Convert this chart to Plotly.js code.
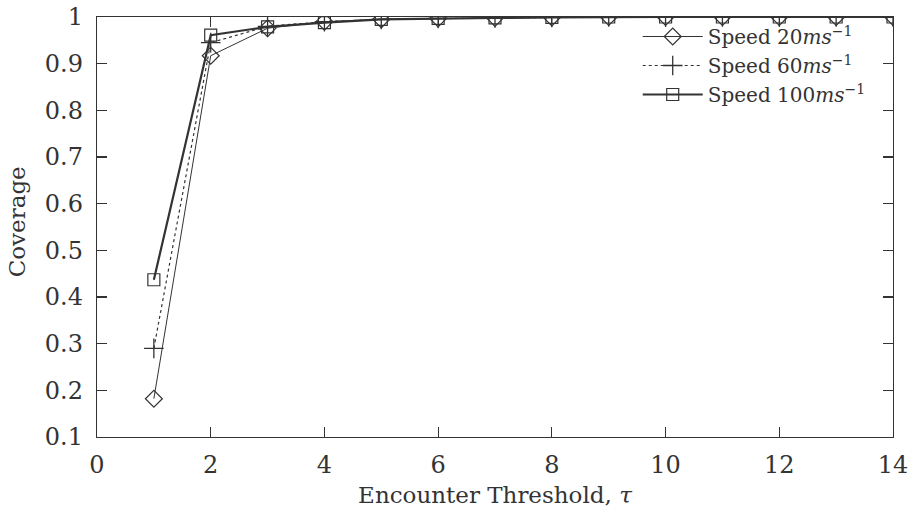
<!DOCTYPE html>
<html>
<head>
<meta charset="utf-8">
<script src="https://cdn.plot.ly/plotly-3.0.1.min.js"></script>
<style>html,body{margin:0;padding:0;background:#fff;}#chart{width:921px;height:515px;}</style>
</head>
<body>
<div id="chart"></div>
<script>
const thresholds = [1, 2, 3, 4, 5, 6, 7, 8, 9, 10, 11, 12, 13, 14];
const speed20 = [0.182, 0.917, 0.976, 0.990, 0.995, 0.997, 0.998, 0.999, 1.0, 1.0, 1.0, 1.0, 1.0, 1.0];
const speed60 = [0.290, 0.945, 0.980, 0.990, 0.995, 0.997, 0.998, 0.999, 1.0, 1.0, 1.0, 1.0, 1.0, 1.0];
const speed100 = [0.437, 0.961, 0.979, 0.988, 0.995, 0.997, 0.998, 0.999, 1.0, 1.0, 1.0, 1.0, 1.0, 1.0];
const seriesNames = ["Speed 20<i>ms</i><sup>−1</sup>", "Speed 60<i>ms</i><sup>−1</sup>", "Speed 100<i>ms</i><sup>−1</sup>"];
const xTicks = [0, 2, 4, 6, 8, 10, 12, 14];
const yTicks = [0.1, 0.2, 0.3, 0.4, 0.5, 0.6, 0.7, 0.8, 0.9, 1];
const yTickText = ["0.1", "0.2", "0.3", "0.4", "0.5", "0.6", "0.7", "0.8", "0.9", "1"];
const xTitle = "Encounter Threshold, <i>τ</i>";
const yTitle = "Coverage";

const ink = "#333333";
const fam = "DejaVu Serif";
const font = {family: fam, size: 24, color: ink};
const titleFont = {family: fam, size: 23, color: ink};
const legendFont = {family: fam, size: 20, color: ink};

const traces = [
  {x: thresholds, y: speed20, name: seriesNames[0], mode: "lines+markers",
   line: {color: ink, width: 1}, marker: {symbol: "diamond-open", size: 13, color: ink, line: {width: 1.2}}},
  {x: thresholds, y: speed60, name: seriesNames[1], mode: "lines+markers",
   line: {color: ink, width: 1.2, dash: "dot"}, marker: {symbol: "cross-thin-open", size: 14, color: ink, line: {width: 1.3, color: ink}}},
  {x: thresholds, y: speed100, name: seriesNames[2], mode: "lines+markers",
   line: {color: ink, width: 2.2}, marker: {symbol: "square-open", size: 12, color: ink, line: {width: 1.2}}}
];

const axisCommon = {
  showgrid: false, zeroline: false, showline: true, mirror: "ticks",
  linecolor: ink, linewidth: 1.2, ticks: "inside", ticklen: 10, tickwidth: 1.2, tickcolor: ink,
  tickfont: font
};

const layout = {
  width: 921, height: 515,
  margin: {l: 97, r: 28, t: 17, b: 78},
  paper_bgcolor: "#fff", plot_bgcolor: "#fff",
  font: font,
  showlegend: true,
  legend: {x: 0.972, xanchor: "right", y: 1.0, yanchor: "top", bgcolor: "rgba(0,0,0,0)",
           font: legendFont, tracegroupgap: 0, itemwidth: 60},
  xaxis: Object.assign({}, axisCommon, {range: [0, 14], tickvals: xTicks, ticklabelstandoff: 6,
    title: {text: xTitle, font: titleFont, standoff: 8}}),
  yaxis: Object.assign({}, axisCommon, {range: [0.1, 1], tickvals: yTicks, ticktext: yTickText, ticklabelstandoff: 8,
    automargin: false}),
  annotations: [
    {text: yTitle, xref: "paper", yref: "paper", x: -0.1, y: 0.512, xanchor: "center", yanchor: "middle",
     textangle: -90, showarrow: false, font: titleFont}
  ]
};

Plotly.newPlot("chart", traces, layout, {displayModeBar: false, staticPlot: true});
</script>
</body>
</html>
